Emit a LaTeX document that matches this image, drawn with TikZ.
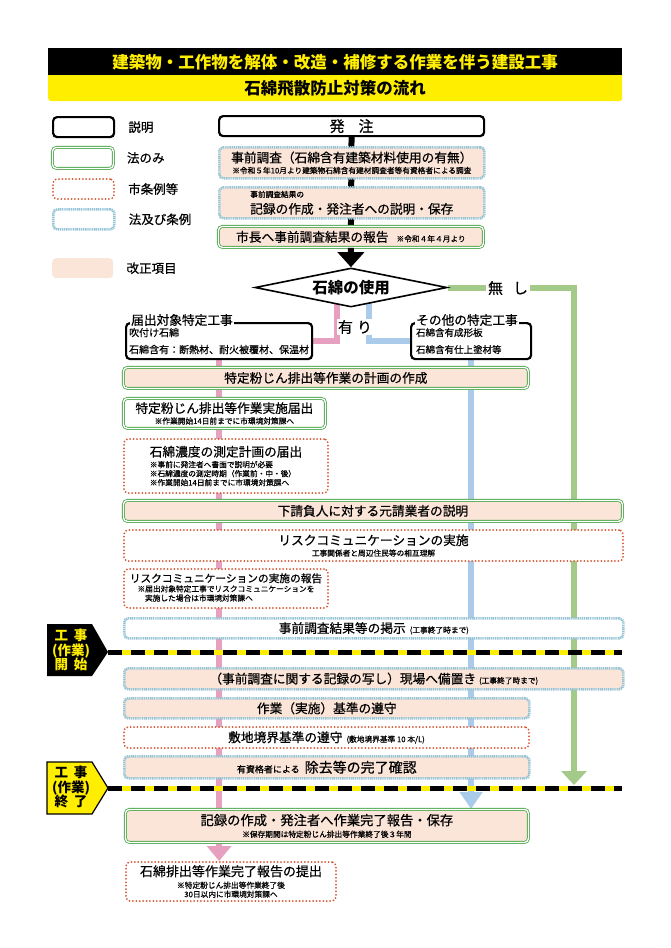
\documentclass[tikz,border=0pt]{standalone}
\usepackage{fontspec}
\setmainfont{Noto Sans CJK JP}
\newfontfamily\md{Noto Sans CJK JP}[FakeBold=0.6]
\usepackage{tikz}
\usetikzlibrary{positioning,arrows.meta,shapes.geometric,backgrounds}
\definecolor{kai}{RGB}{251,229,216}
\definecolor{lawg}{RGB}{80,168,80}
\definecolor{cityr}{RGB}{214,86,50}
\definecolor{bothb}{RGB}{150,196,214}
\definecolor{pnk}{RGB}{232,160,192}
\definecolor{blu}{RGB}{170,204,234}
\definecolor{grn}{RGB}{164,202,138}
\definecolor{hy}{RGB}{255,238,0}
\newcommand\nt[1]{{\fontsize{7.7}{9}\selectfont #1}}

\begin{document}
\begin{tikzpicture}[x=1pt,y=-1pt,
 bx/.style={rounded corners=4pt,anchor=north west,align=center,inner sep=1pt,font=\md\fontsize{12.7}{9}\selectfont},
 hou/.style={bx,draw=lawg,double=white,double distance=1.3pt,line width=0.8pt,fill=white},
 jrei/.style={bx,draw=cityr,line width=2pt,dash pattern=on 0pt off 3.4pt,line cap=round,fill=white},
 ryo/.style={bx,draw=bothb,line width=2.6pt,dash pattern=on 1.2pt off 0.7pt,fill=white},
 ex/.style={bx,draw=black,line width=2.2pt,fill=white},
 kp/.style={fill=kai},
 lb/.style={font=\md\fontsize{12.5}{14}\selectfont,inner sep=0pt},
 tg/.style={align=center,font=\fontsize{13.5}{14.5}\selectfont\bfseries,inner sep=0pt},
 ln/.style={line width=6pt}]
\useasboundingbox (0,0) rectangle (670,948);
\node[fill=hy,rounded corners=3pt,minimum width=574pt,minimum height=31pt,anchor=north west,inner sep=0pt] (hd2) at (48,70) {};
\node[fill=black,minimum width=574pt,minimum height=27pt,anchor=north west,inner sep=0pt,text=hy,font=\fontsize{16.5}{17}\selectfont\bfseries] (hd1) at (48,48) {建築物・工作物を解体・改造・補修する作業を伴う建設工事};
\node[font=\fontsize{16.5}{17}\selectfont\bfseries,inner sep=0pt] (t2) at (335,88) {石綿飛散防止対策の流れ};

\node[ex,minimum width=61pt,minimum height=20pt] (l1) at (52,116) {};
\node[lb,right=13pt of l1] (l1t) {説明};
\node[hou,minimum width=61pt,minimum height=21pt] (l2) at (52,147) {};
\node[lb,right=13pt of l2] (l2t) {法のみ};
\node[jrei,minimum width=61pt,minimum height=20pt] (l3) at (52,178) {};
\node[lb,right=13pt of l3] (l3t) {市条例等};
\node[ryo,minimum width=61pt,minimum height=20pt] (l4) at (52,208) {};
\node[lb,right=13pt of l4] (l4t) {法及び条例};
\node[bx,kp,minimum width=61pt,minimum height=20pt] (l5) at (52,258) {};
\node[lb,right=13pt of l5] (l5t) {改正項目};

\node[ex,minimum width=265pt,minimum height=20pt,font=\md\fontsize{15}{15}\selectfont] (ord) at (218,115) {発\hspace{14pt}注};
\node[ryo,kp,minimum width=265pt,minimum height=31pt] (pre) at (218,146) {事前調査（石綿含有建築材料使用の有無）\\[2pt]\nt{※令和５年10月より建築物石綿含有建材調査者等有資格者による調査}};
\node[ryo,kp,minimum width=265pt,minimum height=31pt,align=left] (rcd) at (218,186) {\nt{事前調査結果の}\\[4pt]記録の作成・発注者への説明・保存};
\node[hou,kp,minimum width=265pt,minimum height=21pt] (rep) at (218,226) {市長へ事前調査結果の報告\hspace{8pt}\nt{※令和４年４月より}};
\node[draw,diamond,aspect=4.9,minimum width=192pt,minimum height=39pt,inner sep=0pt,fill=white,line width=1.6pt,font=\fontsize{15.5}{16}\selectfont\bfseries] (use) at (351,287.5) {石綿の使用};
\node[fill=white,inner sep=1pt,font=\md\fontsize{15}{16}\selectfont] (ari) at (355,327) {有\hspace{4pt}り};
\node[fill=white,inner sep=2pt,font=\md\fontsize{15}{16}\selectfont] (nas) at (508,288) {無\hspace{10pt}し};

\node[ex,minimum height=36pt,text width=180pt,align=left,inner xsep=3pt,font=\md\fontsize{10}{17}\selectfont] (tok) at (125,322) {吹付け石綿\\石綿含有：断熱材、耐火被覆材、保温材};
\node[fill=white,inner sep=1pt,anchor=west,font=\md\fontsize{12.7}{13}\selectfont] (tokt) at (130,320) {届出対象特定工事};
\node[ex,minimum height=36pt,text width=110pt,align=left,inner xsep=5pt,font=\md\fontsize{9.5}{17}\selectfont] (oth) at (410,322) {石綿含有成形板\\石綿含有仕上塗材等};
\node[fill=white,inner sep=1pt,anchor=west,font=\md\fontsize{12.7}{13}\selectfont] (otht) at (415,320) {その他の特定工事};

\node[hou,kp,minimum width=405pt,minimum height=21pt] (plan) at (123,367) {特定粉じん排出等作業の計画の作成};
\node[hou,minimum width=202pt,minimum height=30pt] (ntf) at (123,398) {特定粉じん排出等作業実施届出\\[2pt]\nt{※作業開始14日前までに市環境対策課へ}};
\node[jrei,minimum width=204pt,minimum height=54pt,align=left] (mes) at (123,438) {石綿濃度の測定計画の届出\\[2pt]\nt{※事前に発注者へ書面で説明が必要}\\\nt{※石綿濃度の測定時期（作業前・中・後）}\\\nt{※作業開始14日前までに市環境対策課へ}};
\node[hou,kp,minimum width=499pt,minimum height=21pt] (sub) at (123,500) {下請負人に対する元請業者の説明};
\node[jrei,minimum width=499pt,minimum height=31pt] (rsk) at (123,529) {リスクコミュニケーションの実施\\[2pt]\nt{工事関係者と周辺住民等の相互理解}};
\node[jrei,minimum width=204pt,minimum height=39pt,font=\md\fontsize{10.7}{9}\selectfont] (rrp) at (123,568) {リスクコミュニケーションの実施の報告\\[1pt]\nt{\begin{tabular}{@{}l@{}}※届出対象特定工事でリスクコミュニケーションを\\\hspace*{7.5pt}実施した場合は市環境対策課へ\end{tabular}}};
\node[ryo,minimum width=499pt,minimum height=20pt] (pst) at (123,617) {事前調査結果等の掲示\hspace{4pt}\nt{(工事終了時まで)}};
\node[ryo,kp,minimum width=499pt,minimum height=21pt] (kep) at (123,667) {（事前調査に関する記録の写し）現場へ備置き\hspace{3pt}\nt{(工事終了時まで)}};
\node[ryo,kp,minimum width=405pt,minimum height=20pt] (std) at (123,697) {作業（実施）基準の遵守};
\node[jrei,minimum width=405pt,minimum height=21pt] (ste) at (123,726) {敷地境界基準の遵守\hspace{4pt}\nt{(敷地境界基準 10 本/L)}};
\node[ryo,kp,minimum width=405pt,minimum height=22pt] (cnf) at (123,755) {{\fontsize{9}{9}\selectfont 有資格者による}\hspace{5pt}{\fontsize{14}{9}\selectfont 除去等の完了確認}};
\node[hou,kp,minimum width=403pt,minimum height=33pt,font=\md\fontsize{13.3}{9}\selectfont] (rec) at (125,809) {記録の作成・発注者へ作業完了報告・保存\\[3pt]\nt{※保存期間は特定粉じん排出等作業終了後３年間}};
\node[jrei,minimum width=210pt,minimum height=39pt,font=\md\fontsize{13}{9}\selectfont] (fin) at (125,861) {石綿排出等作業完了報告の提出\\[3pt]\nt{※特定粉じん排出等作業終了後}\\\nt{30日以内に市環境対策課へ}};

\fill (47,624) -- (92,624) -- (108,652) -- (92,676) -- (47,676) -- cycle;
\node[tg,text=hy] (tst) at (71,650) {工\hspace{6pt}事\\(作業)\\開\hspace{6pt}始};
\filldraw[fill=hy,line width=1.2pt] (47,762) -- (92,762) -- (108,788) -- (92,814) -- (47,814) -- cycle;
\node[tg] (ten) at (71,787) {工\hspace{6pt}事\\(作業)\\終\hspace{6pt}了};
\coordinate (stp) at (108,652); \coordinate (se) at (622,652);
\coordinate (enp) at (108,788); \coordinate (ee) at (622,788);
\coordinate (gtip) at (574,785);
\draw[line width=5pt,hy] (stp) -- (se); \draw[line width=5pt,dash pattern=on 14pt off 9pt] (stp) -- (se);
\draw[line width=5pt,hy] (enp) -- (ee); \draw[line width=5pt,dash pattern=on 14pt off 9pt] (enp) -- (ee);
\draw[ln,-{Triangle[width=26pt,length=15pt]}] (rep) -- (use);

\begin{pgfonlayer}{background}
\draw[ln] (ord) -- (rep);
\draw[ln,pnk] ([xshift=-14pt]use.center) |- (tok.east);
\draw[ln,blu] ([xshift=18pt]use.center) |- (oth.west);
\draw[ln,pnk,-{Triangle[width=24pt,length=15pt]}] (tok.south) -- (fin.north -| tok.south);
\draw[ln,blu,-{Triangle[width=22pt,length=17pt]}] (oth.south) -- (rec.north -| oth.south);
\draw[ln,grn,-{Triangle[width=25pt,length=14pt]}] (use.east) -| (gtip);
\end{pgfonlayer}
\end{tikzpicture}
\end{document}
